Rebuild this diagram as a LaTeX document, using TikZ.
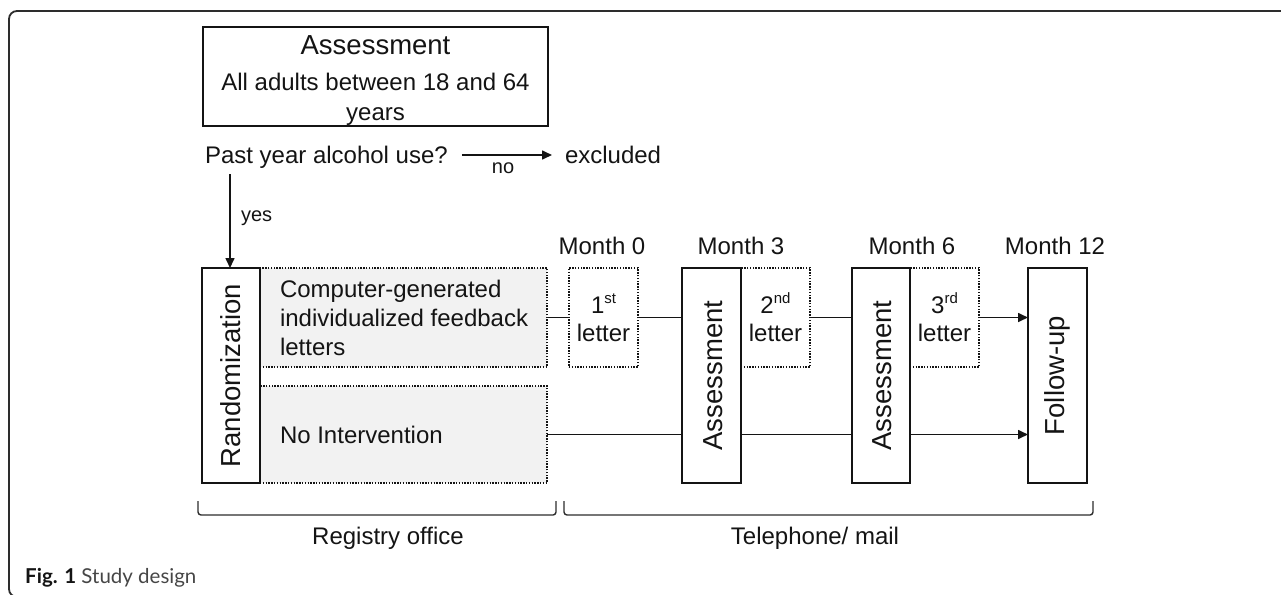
\documentclass[tikz,border=0pt]{standalone}
\usepackage{fontspec}
\setmainfont{Liberation Sans}
\newfontfamily\capfont{Lato}
\usetikzlibrary{arrows.meta}
\definecolor{boxgray}{RGB}{242,242,242}
\definecolor{ink}{RGB}{20,20,20}
\definecolor{framecol}{RGB}{45,45,45}
\definecolor{capgray}{RGB}{70,70,70}
\tikzset{
  txt/.style={inner sep=0pt, outer sep=0pt, text=ink, font=\fontsize{24}{29}\selectfont},
  bigtxt/.style={txt, font=\fontsize{27.5}{33}\selectfont},
  smalltxt/.style={txt, font=\fontsize{20}{24}\selectfont},
  solidbox/.style={draw=ink, line width=1.8pt, inner sep=0pt, outer sep=0pt, fill=white},
  dotbox/.style={draw=ink, line width=1.4pt, dash pattern=on 1.4pt off 1.4pt, inner sep=0pt, outer sep=0pt},
  graybox/.style={dotbox, fill=boxgray},
  conn/.style={draw=ink, line width=1.6pt},
  arr/.style={conn, -{Triangle[length=10pt,width=9pt]}},
  brack/.style={draw=framecol, line width=1.4pt, rounded corners=3pt},
}
\newcommand{\supr}[1]{\raisebox{9.5pt}{\fontsize{15}{15}\selectfont #1}}
\begin{document}
\begin{tikzpicture}[x=1pt,y=-1pt]
\useasboundingbox (0,0) rectangle (1281,594);
% frame
\draw[framecol, line width=1.8pt, rounded corners=8pt] (1300,11) -- (9,11) -- (9,597) -- (1300,597);

% top box
\node[solidbox, minimum width=345pt, minimum height=99pt] (top) at (375.5,76.5) {};
\node[bigtxt, anchor=base] (t1) at (375.5,55) {Assessment};
\node[txt, anchor=base] (t2) at (375.5,90) {All adults between 18 and 64};
\node[txt, anchor=base] (t3) at (375.5,120) {years};

% question
\node[txt, anchor=base west] (q) at (205,163) {Past year alcohol use?};
\node[txt, anchor=base west] (excl) at (565,163) {excluded};
\coordinate (nolevel) at (0,155);
\draw[arr] ([xshift=14pt]q.east |- nolevel) -- ([xshift=-13pt]excl.west |- nolevel);
\node[smalltxt, anchor=base] (no) at (503,173) {no};

% graybox rows
\node[graybox, minimum width=287pt, minimum height=99pt] (g1) at (403.5,317.5) {};
\node[graybox, minimum width=287pt, minimum height=97pt] (g2) at (403.5,434.5) {};
\node[txt, anchor=base west] (g1a) at (280,297) {Computer-generated};
\node[txt, anchor=base west] (g1b) at (280,326) {individualized feedback};
\node[txt, anchor=base west] (g1c) at (280,355) {letters};
\node[txt, anchor=base west] (g2a) at (280,443) {No Intervention};

% randomization
\node[solidbox, minimum width=58pt, minimum height=215pt] (rand) at (231,375.5) {};
\node[bigtxt, rotate=90] (randt) at (rand.center) {Randomization};

% yes arrow
\coordinate (ystart) at (230,174);
\draw[arr] (ystart) -- (ystart |- rand.north);
\node[smalltxt, anchor=base west] (yes) at (241,221) {yes};

% letters
\node[dotbox, fill=white, minimum width=69pt, minimum height=99pt] (L1) at (603.5,317.5) {};
\node[dotbox, fill=white, minimum width=69pt, minimum height=99pt] (L2) at (775.5,317.5) {};
\node[dotbox, fill=white, minimum width=69pt, minimum height=99pt] (L3) at (944.5,317.5) {};
\node[txt, anchor=base] (L1a) at (603.5,313) {1\supr{st}};
\node[txt, anchor=base] (L1b) at (603.5,341) {letter};
\node[txt, anchor=base] (L2a) at (775.5,313) {2\supr{nd}};
\node[txt, anchor=base] (L2b) at (775.5,341) {letter};
\node[txt, anchor=base] (L3a) at (944.5,313) {3\supr{rd}};
\node[txt, anchor=base] (L3b) at (944.5,341) {letter};

% tall boxes
\node[solidbox, minimum width=59pt, minimum height=215pt] (A1) at (711.5,375.5) {};
\node[bigtxt, rotate=90] (A1t) at (713,375.5) {Assessment};
\node[solidbox, minimum width=58pt, minimum height=215pt] (A2) at (881,375.5) {};
\node[bigtxt, rotate=90] (A2t) at (882.5,375.5) {Assessment};
\node[solidbox, minimum width=59pt, minimum height=215pt] (FU) at (1057.5,375.5) {};
\node[bigtxt, rotate=90] (FUt) at (FU.center) {Follow-up};

% months
\node[txt, anchor=base] (m0) at (602,254) {Month 0};
\node[txt, anchor=base] (m3) at (741,254) {Month 3};
\node[txt, anchor=base] (m6) at (912,254) {Month 6};
\node[txt, anchor=base] (m12) at (1055,254) {Month 12};

% connectors upper
\draw[conn] (g1.east) -- (L1.west);
\draw[conn] (L1.east) -- (L1.east -| A1.west);
\draw[conn] (L2.east) -- (L2.east -| A2.west);
\draw[arr] (L3.east) -- (L3.east -| FU.west);
% connectors lower
\draw[conn] (g2.east) -- (g2.east -| A1.west);
\draw[conn] (g2.east -| A1.east) -- (g2.east -| A2.west);
\draw[arr] (g2.east -| A2.east) -- (g2.east -| FU.west);

% brackets
\coordinate (b1l) at (198,501);
\coordinate (b1r) at (556,501);
\coordinate (b2l) at (564,501);
\coordinate (b2r) at (1093,501);
\draw[brack] (b1l) -- ++(0,14) -- ([yshift=-14pt]b1r) -- (b1r);
\draw[brack] (b2l) -- ++(0,14) -- ([yshift=-14pt]b2r) -- (b2r);
\node[txt, anchor=base] (reg) at (388,544) {Registry office};
\node[txt, anchor=base] (tel) at (815,544) {Telephone/ mail};

% caption
\node[inner sep=0pt, anchor=base west, font=\capfont\fontsize{20.5}{24}\selectfont] (cap) at (25,583) {\textcolor{ink}{\bfseries Fig. 1} \textcolor{capgray}{Study design}};
\end{tikzpicture}
\end{document}
